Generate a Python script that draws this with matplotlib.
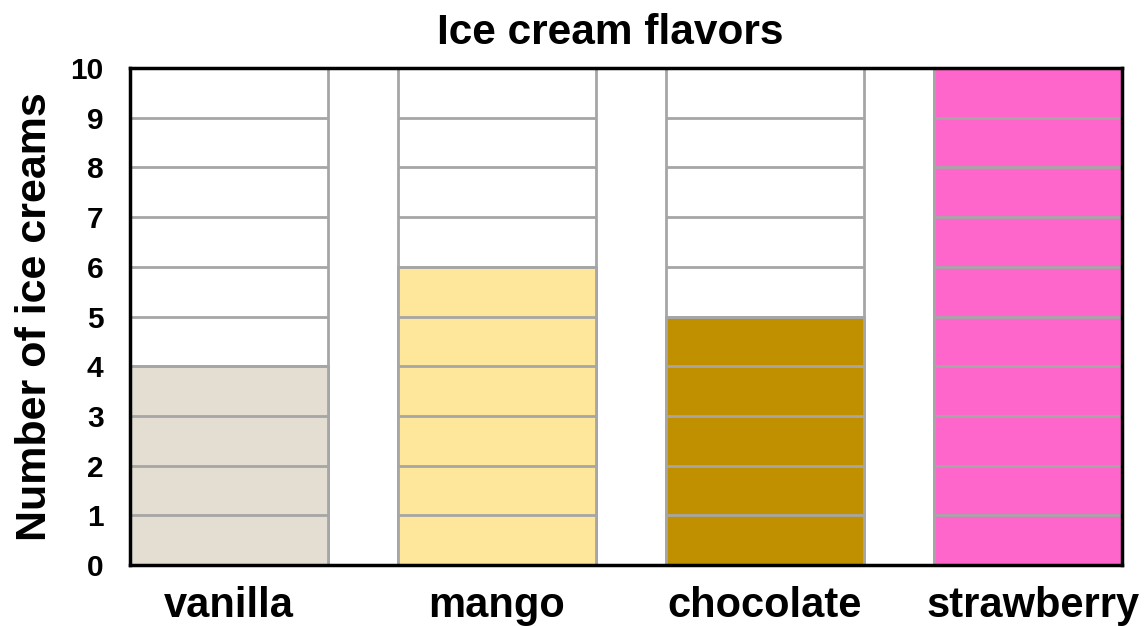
import numpy as np
import matplotlib.pyplot as plt

# -----------------------------
# Data
# -----------------------------
flavors = ["vanilla", "mango", "chocolate", "strawberry"]
counts = [4, 6, 5, 10]
colors = ["#E3DDD2", "#FEE69B", "#C09000", "#FF66CC"]
y_max = 10
y_ticks = list(range(0, 11))

plt.rcParams['font.family'] = ['Liberation Sans', 'DejaVu Sans']

fig = plt.figure(figsize=(11.48, 6.26), dpi=100)
ax = fig.add_axes([0.1132, 0.0974, 0.8641, 0.7940])

x = np.arange(len(flavors))
w = 0.739
grid_col = "#A6A6A6"

# white column frame (0..10) with grey borders
ax.bar(x, [y_max] * len(x), width=w, color="white", edgecolor=grid_col, linewidth=2, zorder=1)
# coloured bars
ax.bar(x, counts, width=w, color=colors, edgecolor=grid_col, linewidth=2, zorder=2)
# grid lines only inside the columns
for xi in x:
    ax.hlines(y_ticks[1:-1], xi - w / 2, xi + w / 2, colors=grid_col, linewidth=2, zorder=3)

ax.set_xlim(-w / 2, 3.332)
ax.set_ylim(0, y_max)
ax.set_yticks(y_ticks)
ax.set_xticks(x)
ax.set_xticklabels(flavors, fontsize=30, fontweight="bold")
ax.tick_params(axis="y", labelsize=21.5, length=0, pad=19)
ax.tick_params(axis="x", length=0, pad=15)
for lab in ax.get_yticklabels():
    lab.set_fontweight("bold")

for s in ax.spines.values():
    s.set_linewidth(2.5)
    s.set_color("black")
    s.set_zorder(5)

ax.set_ylabel("Number of ice creams", fontsize=31, fontweight="bold", labelpad=11)
ax.set_title("Ice cream flavors", fontsize=30.5, fontweight="bold", pad=17, x=0.484)

fig.savefig("out.png", dpi=100)
